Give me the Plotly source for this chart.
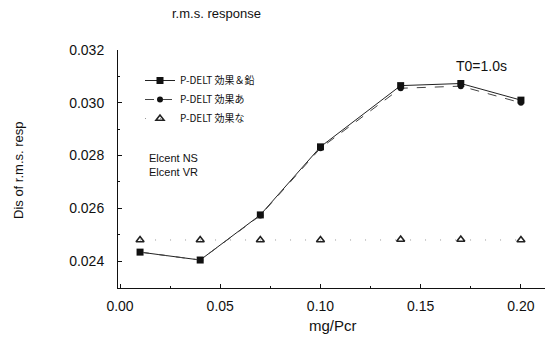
import plotly.graph_objects as go

x_vals = [0.01, 0.04, 0.07, 0.10, 0.14, 0.17, 0.20]
s1_vals = [0.02434, 0.02404, 0.02575, 0.02833, 0.03065, 0.03073, 0.03010]
s2_vals = [0.02434, 0.02404, 0.02573, 0.02828, 0.03055, 0.03063, 0.03000]
s3_vals = [0.02480, 0.02480, 0.02480, 0.02480, 0.02482, 0.02482, 0.02480]
names = ["P-DELT 効果＆鉛", "P-DELT 効果あ", "P-DELT 効果な"]

font = "Liberation Sans, Arial, sans-serif"
L, R, T, B, W, H = 118, 4, 50, 51, 549, 339
pw, ph = W - L - R, H - T - B

def px(x):
    return (x - L) / pw

def py(y):
    return (H - B - y) / ph

fig = go.Figure()
fig.add_trace(go.Scatter(x=x_vals, y=s1_vals, name=names[0], mode="lines+markers",
                         line=dict(color="#222", width=1),
                         marker=dict(symbol="square", size=7, color="#111")))
fig.add_trace(go.Scatter(x=x_vals, y=s2_vals, name=names[1], mode="lines+markers",
                         line=dict(color="#444", width=1, dash="dash"),
                         marker=dict(symbol="circle", size=6, color="#111")))
fig.add_trace(go.Scatter(x=x_vals, y=s3_vals, name=names[2], mode="lines+markers",
                         line=dict(color="#999", width=1, dash="1px,14px"),
                         marker=dict(symbol="triangle-up-open", size=7, color="#222",
                                     line=dict(width=1.6, color="#222"))))

fig.update_layout(
    width=W, height=H,
    margin=dict(l=L, r=R, t=T, b=B),
    paper_bgcolor="white", plot_bgcolor="white",
    font=dict(family=font, size=13, color="#111"),
    showlegend=True,
    legend=dict(x=px(140), y=py(66), xanchor="left", yanchor="top",
                bgcolor="rgba(0,0,0,0)", font=dict(size=10, family="Noto Sans CJK JP, sans-serif"),
                itemwidth=30, tracegroupgap=0),
    xaxis=dict(range=[-0.001, 0.212], tickvals=[0, 0.05, 0.10, 0.15, 0.20],
               ticktext=["0.00", "0.05", "0.10", "0.15", "0.20"],
               ticks="inside", ticklen=4, tickcolor="#111", automargin=False,
               tickfont=dict(size=14), ticklabelstandoff=5,
               minor=dict(ticks="inside", ticklen=2, dtick=0.025, tickcolor="#111"),
               showline=True, linecolor="#111", linewidth=1, showgrid=False, zeroline=False),
    yaxis=dict(range=[0.02298, 0.0320], tickvals=[0.024, 0.026, 0.028, 0.030, 0.032],
               ticktext=["0.024", "0.026", "0.028", "0.030", "0.032"],
               ticks="inside", ticklen=4, tickcolor="#111", automargin=False,
               tickfont=dict(size=14), ticklabelstandoff=10,
               minor=dict(ticks="inside", ticklen=2, dtick=0.001, tickcolor="#111"),
               showline=True, linecolor="#111", linewidth=1, showgrid=False, zeroline=False),
    annotations=[
        dict(text="r.m.s. response", x=px(216), y=py(13), xref="paper", yref="paper",
             showarrow=False, font=dict(size=13), xanchor="center", yanchor="middle"),
        dict(text="T0=1.0s", x=px(481), y=py(66), xref="paper", yref="paper", showarrow=False,
             font=dict(size=14), xanchor="center", yanchor="middle"),
        dict(text="Elcent NS<br>Elcent VR", x=px(147), y=py(150), xref="paper", yref="paper",
             showarrow=False, xanchor="left", yanchor="top", align="left",
             font=dict(size=11)),
        dict(text="mg/Pcr", x=px(333), y=py(325), xref="paper", yref="paper",
             showarrow=False, font=dict(size=15), xanchor="center", yanchor="middle"),
        dict(text="Dis of r.m.s. resp", x=px(18), y=py(170), xref="paper", yref="paper",
             showarrow=False, font=dict(size=13), textangle=-90,
             xanchor="center", yanchor="middle"),
    ],
)
fig.write_html("out.html", config={"displayModeBar": False},
               post_script="document.body.style.margin='0';document.body.style.overflow='hidden';")
